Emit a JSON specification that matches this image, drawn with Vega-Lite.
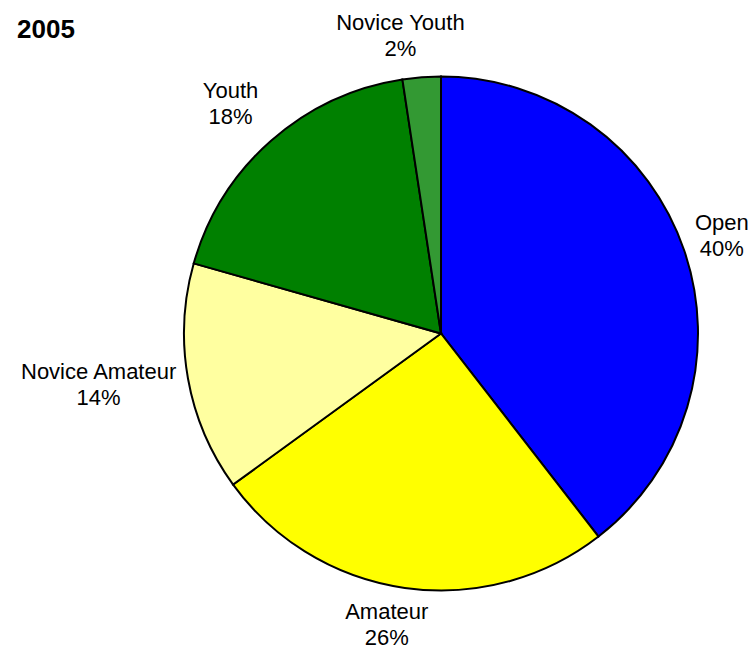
{
  "$schema": "https://vega.github.io/schema/vega-lite/v6.json",
  "width": 624,
  "height": 633,
  "autosize": {"type": "none"},
  "padding": {"left": 129, "top": 17, "right": 0, "bottom": 0},
  "background": "white",
  "title": {
    "text": "2005",
    "anchor": "start",
    "frame": "group",
    "orient": "top",
    "offset": 0,
    "dx": -112,
    "dy": 60,
    "baseline": "alphabetic",
    "font": "Liberation Sans",
    "fontSize": 26,
    "fontWeight": "bold",
    "color": "black"
  },
  "config": {"view": {"stroke": null}, "text": {"font": "Liberation Sans"}},
  "data": {
    "values": [
      {"category": "Open", "share": 39.5, "label": "Open\n40%"},
      {"category": "Amateur", "share": 25.5, "label": "Amateur\n26%"},
      {"category": "Novice Amateur", "share": 14.4, "label": "Novice Amateur\n14%"},
      {"category": "Youth", "share": 18.2, "label": "Youth\n18%"},
      {"category": "Novice Youth", "share": 2.4, "label": "Novice Youth\n2%"}
    ]
  },
  "transform": [{"window": [{"op": "row_number", "as": "idx"}]}],
  "encoding": {
    "theta": {"field": "share", "type": "quantitative", "stack": true},
    "order": {"field": "idx", "type": "quantitative"}
  },
  "layer": [
    {
      "mark": {"type": "arc", "outerRadius": 257, "stroke": "black", "strokeWidth": 2},
      "encoding": {
        "color": {
          "field": "category",
          "type": "nominal",
          "scale": {
            "domain": ["Open", "Amateur", "Novice Amateur", "Youth", "Novice Youth"],
            "range": ["#0000FF", "#FFFF00", "#FFFFA0", "#008000", "#339933"]
          },
          "legend": null
        }
      }
    },
    {
      "mark": {"type": "text", "radius": 300, "fontSize": 22, "lineHeight": 26, "lineBreak": "\n", "align": "center", "baseline": "middle", "color": "black", "dx": -3, "dy": -13},
      "encoding": {"text": {"condition": {"test": "datum.category === 'Open'", "field": "label"}, "value": ""}}
    },
    {
      "mark": {"type": "text", "radius": 300, "fontSize": 22, "lineHeight": 26, "lineBreak": "\n", "align": "center", "baseline": "middle", "color": "black", "dx": -12, "dy": -17},
      "encoding": {"text": {"condition": {"test": "datum.category === 'Youth'", "field": "label"}, "value": ""}}
    },
    {
      "mark": {"type": "text", "radius": 300, "fontSize": 22, "lineHeight": 26, "lineBreak": "\n", "align": "center", "baseline": "middle", "color": "black", "dx": -12, "dy": -19},
      "encoding": {"text": {"condition": {"test": "datum.category === 'Amateur'", "field": "label"}, "value": ""}}
    },
    {
      "mark": {"type": "text", "radius": 300, "fontSize": 22, "lineHeight": 26, "lineBreak": "\n", "align": "center", "baseline": "middle", "color": "black", "dx": -18, "dy": -11},
      "encoding": {"text": {"condition": {"test": "datum.category === 'Novice Youth'", "field": "label"}, "value": ""}}
    },
    {
      "mark": {"type": "text", "radius": 300, "fontSize": 22, "lineHeight": 26, "lineBreak": "\n", "align": "center", "baseline": "middle", "color": "black", "dx": -47, "dy": -14},
      "encoding": {"text": {"condition": {"test": "datum.category === 'Novice Amateur'", "field": "label"}, "value": ""}}
    }
  ]
}
